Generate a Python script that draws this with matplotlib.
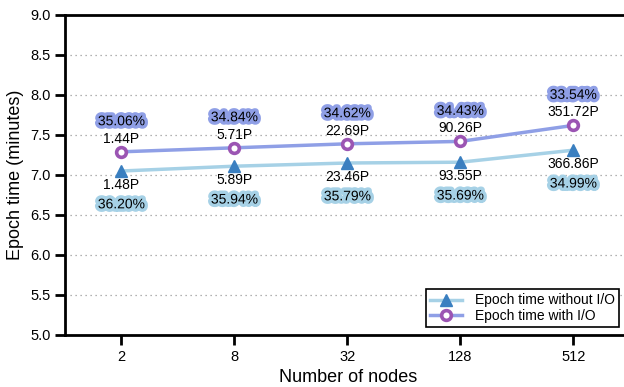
import matplotlib
matplotlib.use("Agg")
import matplotlib.pyplot as plt
import matplotlib.patheffects as pe

plt.rcParams['font.family'] = ['Liberation Sans', 'DejaVu Sans']

nodes = ["2", "8", "32", "128", "512"]
time_no_io = [7.05, 7.11, 7.15, 7.16, 7.31]
time_io = [7.29, 7.34, 7.39, 7.42, 7.62]
flops_no_io = ["1.48P", "5.89P", "23.46P", "93.55P", "366.86P"]
flops_io = ["1.44P", "5.71P", "22.69P", "90.26P", "351.72P"]
pct_no_io = ["36.20%", "35.94%", "35.79%", "35.69%", "34.99%"]
pct_io = ["35.06%", "34.84%", "34.62%", "34.43%", "33.54%"]

c_line1 = "#a6d1e6"
c_mark1 = "#3a7fc0"
c_line2 = "#8f9fe6"
c_mark2 = "#9b55b3"

fig = plt.figure(figsize=(6.24, 3.87), dpi=100)
ax = fig.add_axes([65 / 624, 1 - 335 / 387, 567 / 624, 320 / 387])

x = list(range(len(nodes)))
ax.plot(x, time_no_io, color=c_line1, lw=2.5, marker="^", ms=8.5,
        mfc=c_mark1, mec=c_mark1, label="Epoch time without I/O", zorder=3)
ax.plot(x, time_io, color=c_line2, lw=2.5, marker="o", ms=7,
        mfc="white", mec=c_mark2, mew=2.6, label="Epoch time with I/O", zorder=3)

fs = 10
for i in x:
    ax.annotate(flops_io[i], (i, time_io[i]), xytext=(0, 9.5), textcoords="offset points",
                ha="center", va="center", fontsize=fs)
    ax.annotate(pct_io[i], (i, time_io[i]), xytext=(0, 22), textcoords="offset points",
                ha="center", va="center", fontsize=fs,
                path_effects=[pe.withStroke(linewidth=5, foreground=c_line2)])
    ax.annotate(flops_no_io[i], (i, time_no_io[i]), xytext=(0, -10), textcoords="offset points",
                ha="center", va="center", fontsize=fs)
    ax.annotate(pct_no_io[i], (i, time_no_io[i]), xytext=(0, -24), textcoords="offset points",
                ha="center", va="center", fontsize=fs,
                path_effects=[pe.withStroke(linewidth=5, foreground=c_line1)])

ax.set_xlim(-0.5, 4.52)
ax.set_ylim(5.0, 9.0)
ax.set_xticks(x)
ax.set_xticklabels(nodes)
ax.set_yticks([5.0, 5.5, 6.0, 6.5, 7.0, 7.5, 8.0, 8.5, 9.0])
ax.set_yticklabels([f"{v:.1f}" for v in ax.get_yticks()])
ax.tick_params(axis="both", direction="out", length=7, width=2, labelsize=10.5)
ax.yaxis.grid(True, linestyle=(0, (1, 3)), color="#999999", lw=0.9)
ax.set_axisbelow(True)
for s in ax.spines.values():
    s.set_linewidth(2)

ax.set_xlabel("Number of nodes", fontsize=13)
ax.set_ylabel("Epoch time (minutes)", fontsize=13)

leg = ax.legend(loc="lower right", bbox_to_anchor=(554 / 567, 8 / 320), borderaxespad=0,
                fontsize=10, fancybox=False, edgecolor="black", framealpha=1,
                handlelength=2.3, borderpad=0.3, labelspacing=0.1, handletextpad=0.9)
leg.get_frame().set_linewidth(1.2)

fig.savefig("out.png", dpi=100)
